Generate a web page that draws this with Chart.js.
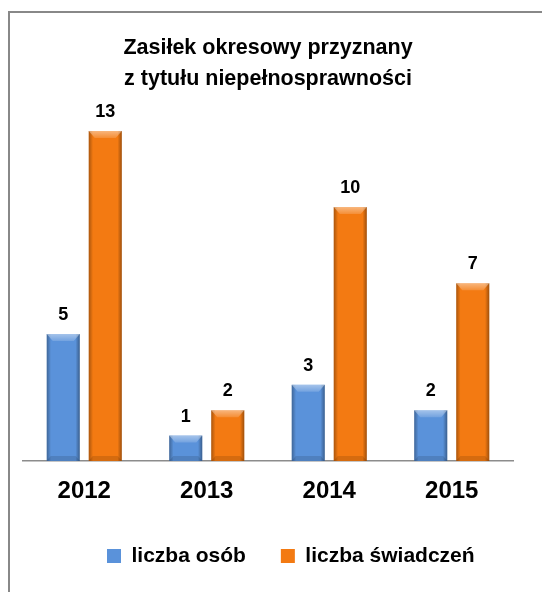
<!DOCTYPE html>
<html lang="pl">
<head>
<meta charset="UTF-8">
<title>Zasiłek okresowy</title>
<script src="https://cdn.jsdelivr.net/npm/chart.js"></script>
<style>
  body { margin: 0; background: #fff; }
  .wrap { position: relative; width: 542px; height: 592px; }
  .frame {
    position: absolute; left: 8px; top: 11px; right: -10px; bottom: -10px;
    border-left: 2px solid #888; border-top: 2px solid #888;
  }
  canvas { position: absolute; left: 0; top: 0; }
</style>
</head>
<body>
<div class="wrap">
  <div class="frame"></div>
  <canvas id="chart" width="542" height="592"></canvas>
</div>
<script>
// data
const years = ['2012', '2013', '2014', '2015'];
const persons = [5, 1, 3, 2];
const benefits = [13, 2, 10, 7];
const seriesNames = ['liczba osób', 'liczba świadczeń'];
const titleLines = ['Zasiłek okresowy przyznany', 'z tytułu niepełnosprawności'];

const FONT = "'Liberation Sans', Arial, sans-serif";

// Excel-like bevel shading drawn over each bar
const bevelPlugin = {
  id: 'bevel',
  afterDatasetsDraw(chart) {
    const ctx = chart.ctx;
    chart.data.datasets.forEach((ds, di) => {
      chart.getDatasetMeta(di).data.forEach(bar => {
        const l = bar.x - bar.width / 2, r = bar.x + bar.width / 2;
        const t = bar.y, b = bar.base, w = bar.width;
        ctx.save();
        const g = ctx.createLinearGradient(l, 0, r, 0);
        g.addColorStop(0, 'rgba(0,0,0,0.3)');
        g.addColorStop(0.13, 'rgba(0,0,0,0.0)');
        g.addColorStop(0.87, 'rgba(0,0,0,0.0)');
        g.addColorStop(1, 'rgba(0,0,0,0.35)');
        ctx.fillStyle = g;
        ctx.fillRect(l, t, w, b - t);
        // top bevel
        const bv = Math.min(7, (b - t) / 2);
        const tg = ctx.createLinearGradient(0, t, 0, t + bv);
        tg.addColorStop(0, 'rgba(255,255,255,0.45)');
        tg.addColorStop(1, 'rgba(255,255,255,0.15)');
        ctx.beginPath();
        ctx.moveTo(l, t); ctx.lineTo(r, t);
        ctx.lineTo(r - 6, t + bv); ctx.lineTo(l + 6, t + bv);
        ctx.closePath();
        ctx.fillStyle = tg;
        ctx.fill();
        // bottom bevel
        const bb = Math.min(5, (b - t) / 3);
        ctx.beginPath();
        ctx.moveTo(l, b); ctx.lineTo(r, b);
        ctx.lineTo(r - 4, b - bb); ctx.lineTo(l + 4, b - bb);
        ctx.closePath();
        ctx.fillStyle = 'rgba(0,0,0,0.12)';
        ctx.fill();
        ctx.restore();
      });
    });
  }
};

// value labels above bars
const valueLabels = {
  id: 'valueLabels',
  afterDatasetsDraw(chart) {
    const ctx = chart.ctx;
    ctx.save();
    ctx.font = 'bold 18px ' + FONT;
    ctx.fillStyle = '#000';
    ctx.textAlign = 'center';
    ctx.textBaseline = 'middle';
    chart.data.datasets.forEach((ds, di) => {
      chart.getDatasetMeta(di).data.forEach((bar, i) => {
        ctx.fillText(ds.data[i], bar.x, bar.y - 19);
      });
    });
    ctx.restore();
  }
};

// move the legend to where the original has it
const legendPlace = {
  id: 'legendPlace',
  afterLayout(chart) {
    const lg = chart.legend;
    const pad = lg.options.labels.padding;
    const dy = (556 - pad - 10.5) - lg.top;
    const dx = (107 - pad) - lg.left;
    lg.top += dy; lg.bottom += dy;
    lg.left += dx; lg.right += dx;
  }
};

new Chart(document.getElementById('chart'), {
  type: 'bar',
  data: {
    labels: years,
    datasets: [
      { label: seriesNames[0], data: persons, backgroundColor: '#5a92da', borderWidth: 0 },
      { label: seriesNames[1], data: benefits, backgroundColor: '#f37a12', borderWidth: 0 }
    ]
  },
  options: {
    responsive: false,
    animation: false,
    categoryPercentage: 0.686,
    barPercentage: 0.786,
    layout: { padding: { left: 23, right: 29, top: 0, bottom: 0 } },
    plugins: {
      title: {
        display: true,
        text: titleLines,
        color: '#000',
        font: { family: FONT, size: 21.5, weight: 'bold', lineHeight: 1.42 },
        padding: { top: 33, bottom: 11.5 }
      },
      legend: {
        position: 'bottom',
        align: 'start',
        labels: {
          color: '#000',
          font: { family: FONT, size: 21, weight: 'bold' },
          boxWidth: 14,
          boxHeight: 14,
          padding: 35
        }
      },
      tooltip: { enabled: false }
    },
    scales: {
      x: {
        grid: { display: false, drawTicks: false },
        border: { color: '#8c8c8c', width: 1.5 },
        ticks: {
          color: '#000',
          font: { family: FONT, size: 24, weight: 'bold' },
          padding: 16
        },
        afterFit(s) { s.height = 65; }
      },
      y: {
        display: false,
        min: 0,
        max: 14
      }
    }
  },
  plugins: [bevelPlugin, valueLabels, legendPlace]
});
</script>
</body>
</html>
